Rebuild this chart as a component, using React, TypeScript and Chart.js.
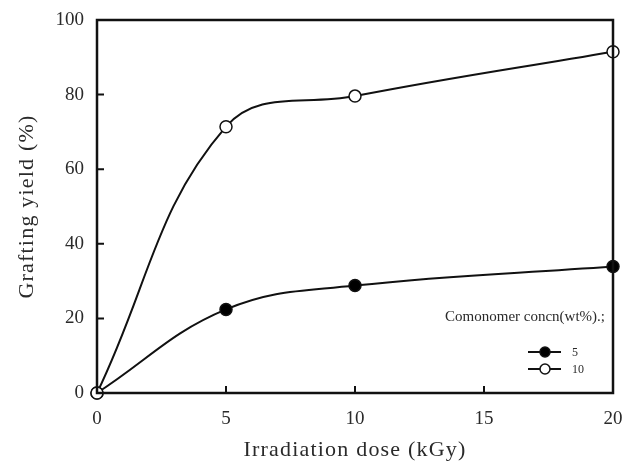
import React, { useEffect, useRef } from "react";
import { Chart, registerables } from "chart.js";
Chart.register(...registerables);

const doses = [0, 5, 10, 20];
const yield5 = [0, 22.4, 28.8, 33.9];
const yield10 = [0, 71.4, 79.6, 91.5];
const xTicks = [0, 5, 10, 15, 20];
const yTicks = [0, 20, 40, 60, 80, 100];
const seriesLabels = ["5", "10"];
const legendTitle = "Comonomer concn(wt%).;";
const xTitle = "Irradiation dose (kGy)";
const yTitle = "Grafting yield (%)";

const SERIF = "'Liberation Serif', 'Times New Roman', serif";
const INK = "#111";
const TEXT = "#2a2a2a";

const spacingPlugin = {
  id: "titleSpacing",
  beforeDraw(chart: any) {
    (chart.ctx as any).letterSpacing = "1.2px";
  },
  beforeDatasetsDraw(chart: any) {
    (chart.ctx as any).letterSpacing = "0px";
  },
};

const framePlugin = {
  id: "frame",
  afterDraw(chart: any) {
    const { ctx, chartArea } = chart;
    const xs = chart.scales.x;
    const ys = chart.scales.y;
    ctx.save();
    (ctx as any).letterSpacing = "0px";
    ctx.strokeStyle = INK;
    ctx.lineWidth = 2.5;
    ctx.strokeRect(chartArea.left, chartArea.top, chartArea.right - chartArea.left, chartArea.bottom - chartArea.top);
    ctx.lineWidth = 2;
    ctx.beginPath();
    xTicks.slice(1, -1).forEach((v) => {
      const px = xs.getPixelForValue(v);
      ctx.moveTo(px, chartArea.bottom);
      ctx.lineTo(px, chartArea.bottom - 7);
    });
    yTicks.slice(1, -1).forEach((v) => {
      const py = ys.getPixelForValue(v);
      ctx.moveTo(chartArea.left, py);
      ctx.lineTo(chartArea.left + 7, py);
    });
    ctx.stroke();

    // legend
    const right = chartArea.right;
    ctx.fillStyle = TEXT;
    ctx.font = `15px ${SERIF}`;
    ctx.textAlign = "right";
    ctx.textBaseline = "middle";
    ctx.fillText(legendTitle, right - 8, 317);
    chart.data.datasets.forEach((ds: any, i: number) => {
      const y = 352 + i * 17;
      const x0 = 528;
      const x1 = 561;
      ctx.strokeStyle = INK;
      ctx.lineWidth = 2;
      ctx.beginPath();
      ctx.moveTo(x0, y);
      ctx.lineTo(x1, y);
      ctx.stroke();
      ctx.beginPath();
      ctx.arc(545, y, 5, 0, Math.PI * 2);
      ctx.fillStyle = ds.pointBackgroundColor;
      ctx.fill();
      ctx.lineWidth = 1.5;
      ctx.stroke();
      ctx.fillStyle = TEXT;
      ctx.textAlign = "left";
      ctx.font = `12px ${SERIF}`;
      ctx.fillText(ds.label, 572, y + 1);
    });
    ctx.restore();
  },
};

export default function App() {
  const ref = useRef<HTMLCanvasElement | null>(null);
  useEffect(() => {
    if (!ref.current) return;
    const chart = new Chart(ref.current, {
      type: "line",
      data: {
        datasets: [
          {
            label: seriesLabels[0],
            data: doses.map((d, i) => ({ x: d, y: yield5[i] })),
            borderColor: INK,
            borderWidth: 2,
            pointBackgroundColor: "#000",
            pointBorderColor: INK,
            pointBorderWidth: 1.5,
            pointRadius: 6,
            tension: 0.4,
            fill: false,
            order: 1,
            clip: false as any,
          },
          {
            label: seriesLabels[1],
            data: doses.map((d, i) => ({ x: d, y: yield10[i] })),
            borderColor: INK,
            borderWidth: 2,
            pointBackgroundColor: "#fff",
            pointBorderColor: INK,
            pointBorderWidth: 1.5,
            pointRadius: 6,
            tension: 0.4,
            fill: false,
            order: 0,
            clip: false as any,
          },
        ],
      },
      options: {
        animation: false,
        responsive: false,
        maintainAspectRatio: false,
        layout: { padding: { top: 20, right: 11, left: 0, bottom: 0 } },
        plugins: { legend: { display: false }, tooltip: { enabled: false } },
        scales: {
          x: {
            type: "linear",
            min: 0,
            max: 20,
            afterBuildTicks: (s: any) => {
              s.ticks = xTicks.map((v) => ({ value: v }));
            },
            afterFit: (s: any) => {
              s.height = 76;
              s.paddingLeft = 0;
              s.paddingRight = 0;
            },
            grid: { display: false, drawTicks: false },
            border: { display: false },
            ticks: { color: TEXT, font: { family: SERIF, size: 19 }, padding: 15, maxRotation: 0, z: 1 },
            title: {
              display: true,
              text: xTitle,
              color: TEXT,
              font: { family: SERIF, size: 22 },
              padding: { top: 0, bottom: 6 },
            },
          },
          y: {
            type: "linear",
            min: 0,
            max: 100,
            afterBuildTicks: (s: any) => {
              s.ticks = yTicks.map((v) => ({ value: v }));
            },
            afterFit: (s: any) => {
              s.width = 97;
              s.paddingTop = 0;
              s.paddingBottom = 0;
            },
            grid: { display: false, drawTicks: false },
            border: { display: false },
            ticks: { color: TEXT, font: { family: SERIF, size: 19 }, padding: 13, z: 1 },
            title: {
              display: true,
              text: yTitle,
              color: TEXT,
              font: { family: SERIF, size: 22 },
              padding: { top: 14, bottom: 0 },
            },
          },
        },
      },
      plugins: [spacingPlugin, framePlugin],
    });
    return () => chart.destroy();
  }, []);
  return (
    <div style={{ position: "fixed", left: 0, top: 0, width: 624, height: 469, background: "#fff" }}>
      <canvas ref={ref} width={624} height={469} style={{ display: "block" }} />
    </div>
  );
}
